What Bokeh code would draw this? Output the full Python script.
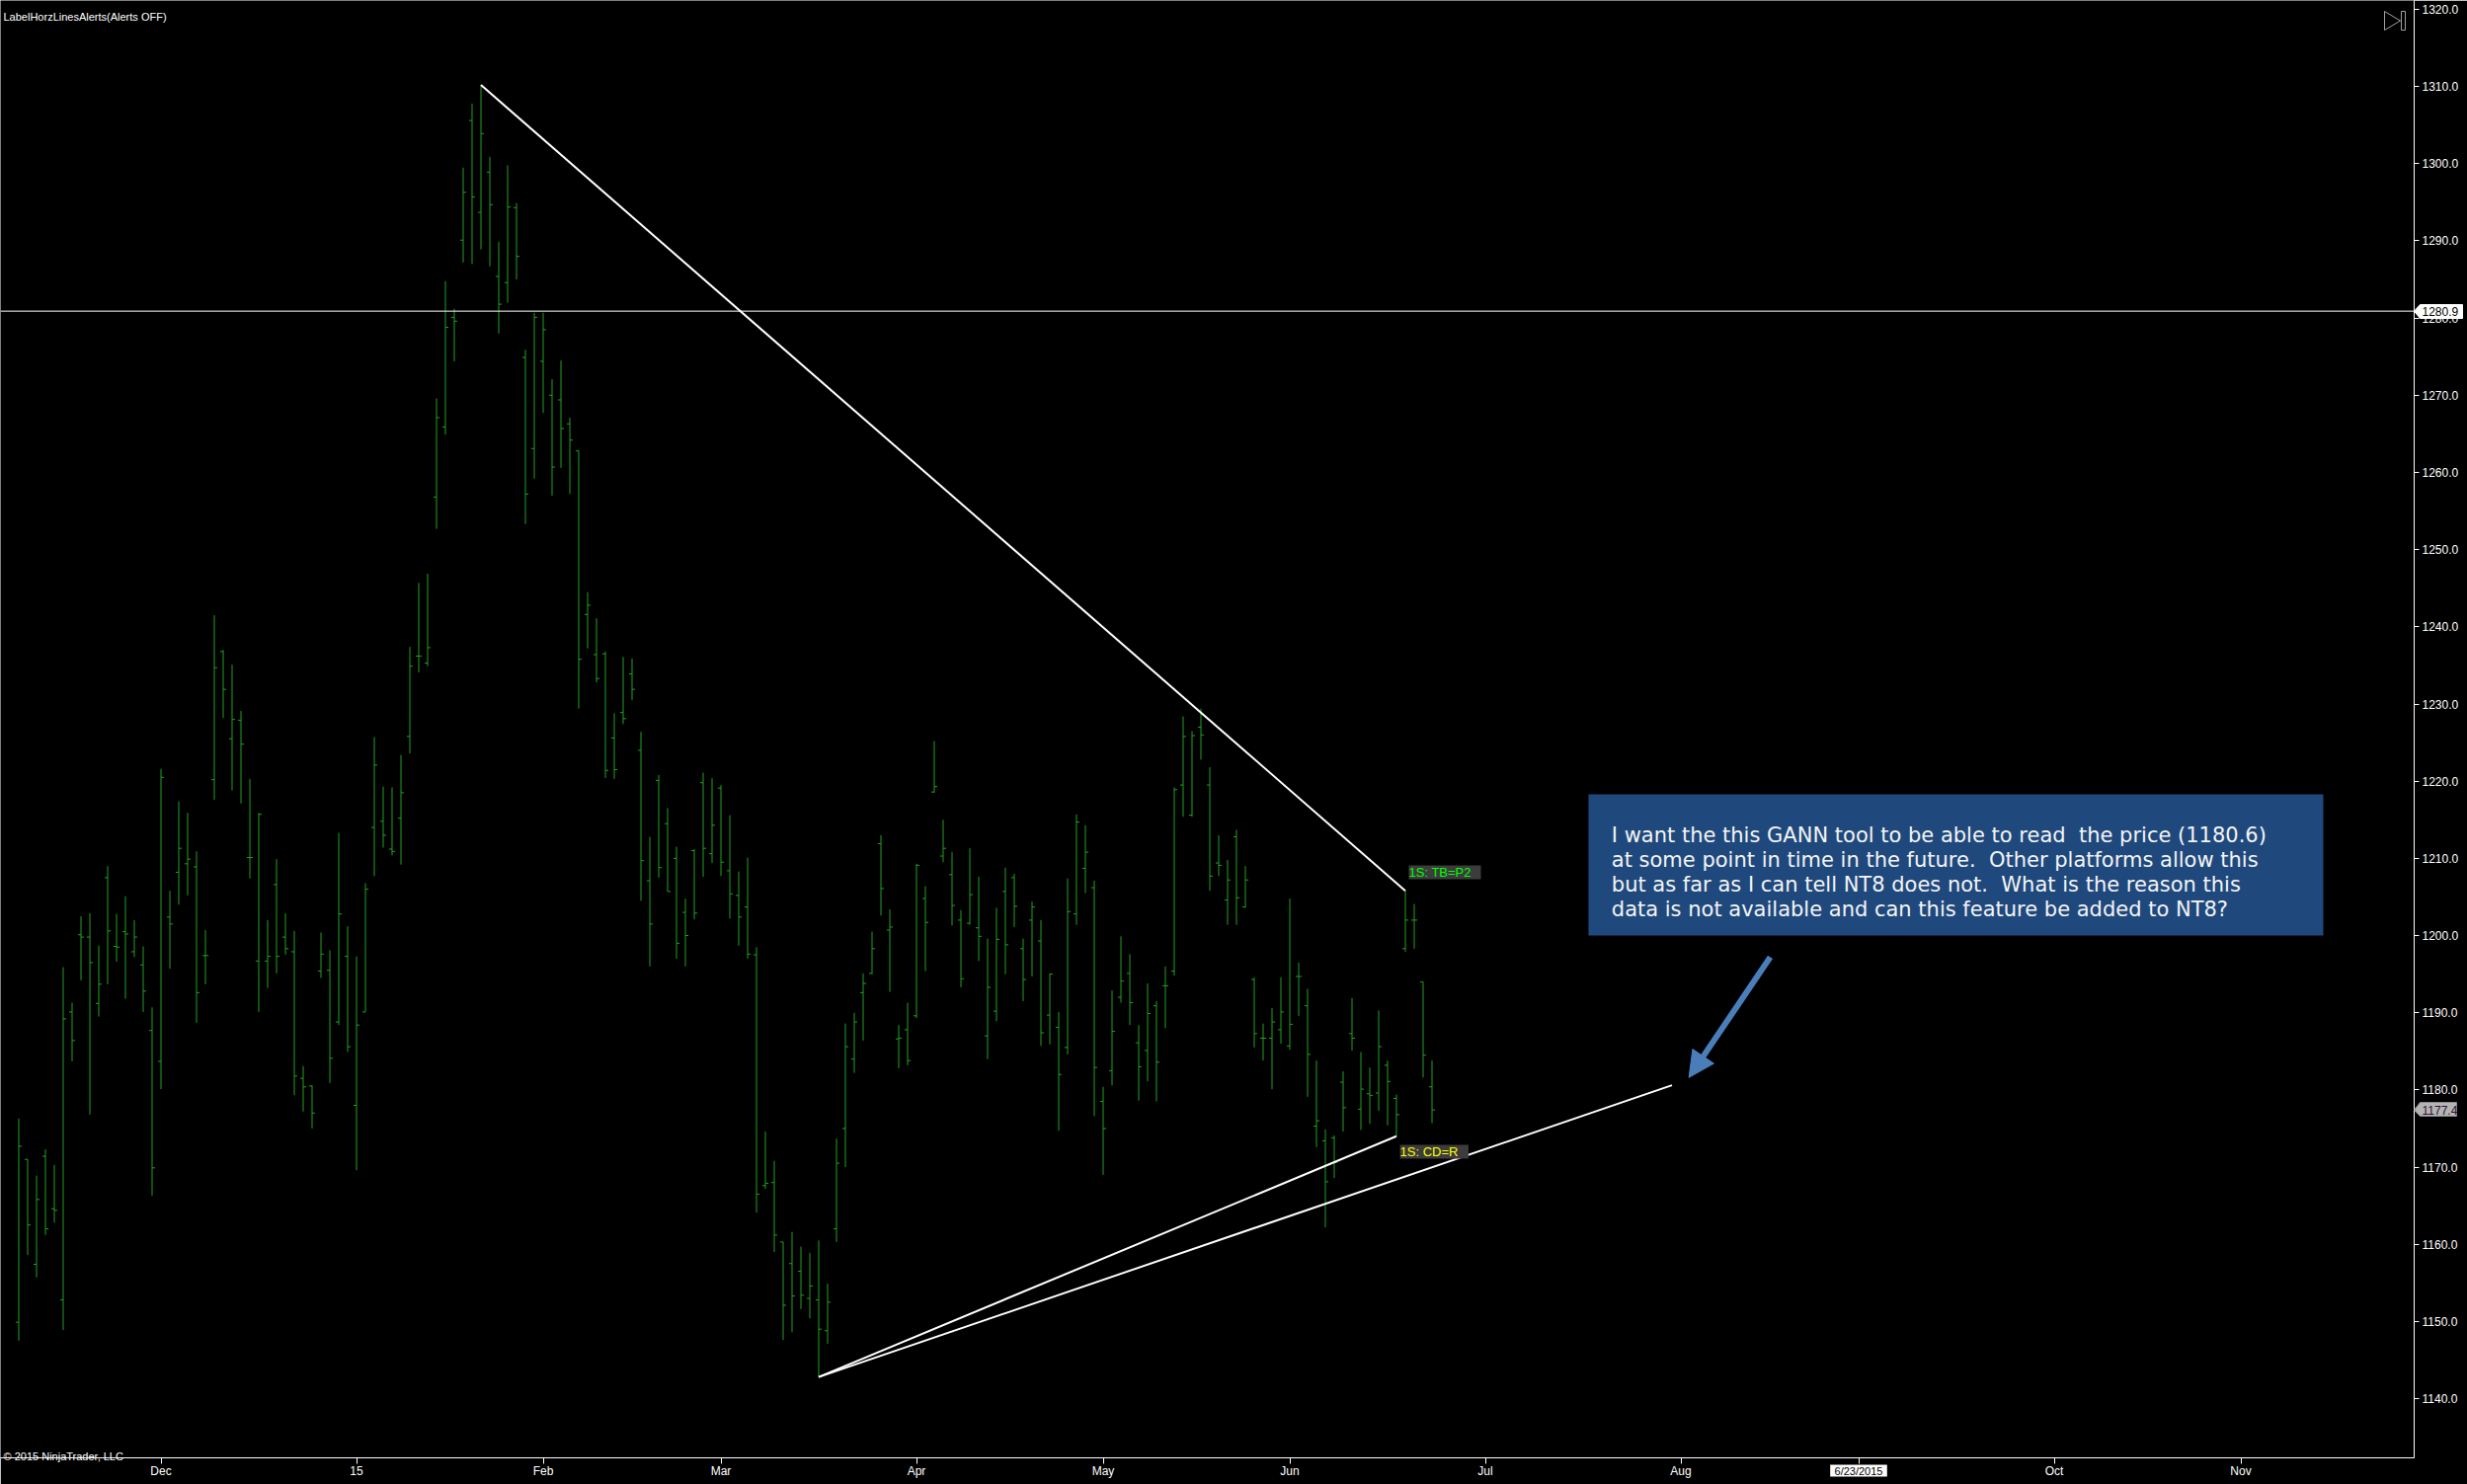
from bokeh.plotting import figure
from bokeh.models import (FixedTicker, Label, BoxAnnotation, Span, Arrow, NormalHead,
                          PrintfTickFormatter)
from bokeh.embed import file_html
from bokeh.resources import INLINE

# ---------------- data (daily OHLC, bar index = trading day) ----------------
opens = [1149.9, 1171.0, 1157.4, 1171.4, 1164.6, 1152.8, 1190.1, 1200.1, 1199.8, 1191.2,
         1207.5, 1198.6, 1200.5, 1197.9, 1196.2, 1187.7, 1183.7, 1202.4, 1208.2, 1209.3,
         1208.9, 1197.4, 1220.2, 1236.8, 1225.5, 1227.9, 1210.1, 1196.7, 1196.7, 1206.6,
         1199.8, 1197.9, 1181.5, 1180.5, 1195.4, 1195.5, 1188.8, 1197.3, 1178.0, 1190.1,
         1214.0, 1214.8, 1211.2, 1215.2, 1225.8, 1236.2, 1235.3, 1256.8, 1265.9, 1280.1,
         1290.1, 1305.6, 1293.7, 1298.9, 1285.4, 1284.6, 1294.3, 1274.9, 1263.1, 1274.4,
         1270.0, 1269.4, 1266.3, 1262.8, 1241.6, 1236.4, 1236.5, 1225.6, 1228.9, 1233.9,
         1224.0, 1207.1, 1220.1, 1214.5, 1210.0, 1203.0, 1211.0, 1219.8, 1210.6, 1219.1,
         1208.4, 1205.2, 1203.7, 1197.5, 1167.6, 1168.0, 1160.3, 1157.5, 1156.5, 1153.0,
         1152.8, 1148.8, 1162.0, 1175.0, 1184.0, 1192.6, 1195.1, 1211.9, 1200.7, 1186.6,
         1187.8, 1189.6, 1204.8, 1218.6, 1210.3, 1207.9, 1202.0, 1201.6, 1201.0, 1187.0,
         1190.2, 1205.7, 1207.5, 1198.3, 1202.0, 1199.3, 1189.7, 1188.1, 1185.5, 1202.8,
         1208.7, 1206.2, 1178.5, 1182.5, 1192.0, 1195.1, 1186.1, 1185.1, 1190.9, 1193.5,
         1195.4, 1219.5, 1215.6, 1227.0, 1219.5, 1209.4, 1204.6, 1212.8, 1203.7, 1194.3,
         1186.7, 1186.7, 1187.8, 1185.7, 1194.7, 1190.9, 1175.3, 1173.4, 1173.8, 1181.0,
         1187.3, 1177.5, 1179.5, 1179.6, 1183.2, 1178.9, 1198.3, 1202.0, 1194.0, 1180.4]
highs = [1176.3, 1171.0, 1168.9, 1172.3, 1170.3, 1195.9, 1191.3, 1202.5, 1202.9, 1198.7,
         1209.0, 1202.8, 1205.1, 1202.0, 1198.6, 1190.7, 1221.6, 1205.8, 1217.4, 1215.9,
         1210.9, 1200.7, 1241.5, 1237.0, 1235.1, 1229.1, 1220.3, 1215.9, 1202.0, 1209.9,
         1202.9, 1200.6, 1183.1, 1180.6, 1200.4, 1198.1, 1213.3, 1201.2, 1197.3, 1206.8,
         1225.7, 1219.3, 1219.2, 1223.4, 1237.4, 1245.7, 1246.9, 1269.6, 1284.8, 1281.2,
         1299.5, 1307.8, 1310.2, 1300.9, 1289.9, 1299.8, 1294.9, 1275.9, 1280.7, 1280.7,
         1272.1, 1274.5, 1267.1, 1262.8, 1244.5, 1241.1, 1236.8, 1228.8, 1236.1, 1235.9,
         1226.4, 1212.8, 1220.8, 1216.5, 1211.5, 1204.8, 1211.2, 1221.1, 1220.4, 1219.5,
         1215.6, 1208.3, 1210.1, 1198.5, 1174.6, 1170.8, 1160.3, 1161.6, 1159.7, 1158.9,
         1160.5, 1154.9, 1173.7, 1188.6, 1190.0, 1195.1, 1200.5, 1213.0, 1203.4, 1188.4,
         1191.3, 1209.3, 1206.4, 1225.2, 1215.0, 1210.8, 1203.3, 1211.3, 1207.6, 1199.6,
         1203.6, 1208.8, 1208.0, 1199.6, 1204.4, 1202.0, 1195.1, 1190.1, 1207.4, 1215.7,
         1214.3, 1207.1, 1180.4, 1192.9, 1199.9, 1197.6, 1188.4, 1193.8, 1191.5, 1196.0,
         1219.2, 1228.4, 1226.5, 1229.4, 1221.8, 1213.0, 1209.8, 1213.7, 1209.0, 1194.6,
         1188.6, 1190.6, 1194.6, 1204.8, 1196.5, 1193.1, 1183.8, 1174.9, 1174.1, 1182.4,
         1191.9, 1184.9, 1182.9, 1190.3, 1183.8, 1179.4, 1205.8, 1204.1, 1194.0, 1183.8]
lows = [1147.5, 1158.6, 1155.7, 1161.2, 1162.8, 1148.9, 1183.7, 1194.2, 1176.8, 1189.5,
        1193.7, 1196.6, 1191.8, 1197.2, 1190.1, 1166.3, 1180.1, 1195.7, 1204.0, 1205.2,
        1188.7, 1193.7, 1217.6, 1228.2, 1218.8, 1217.1, 1207.4, 1190.1, 1193.2, 1195.1,
        1197.5, 1179.3, 1177.2, 1175.0, 1194.5, 1180.9, 1188.4, 1184.9, 1169.6, 1190.1,
        1207.7, 1211.4, 1210.4, 1209.2, 1223.6, 1234.1, 1234.9, 1252.7, 1264.9, 1274.4,
        1287.2, 1287.0, 1288.9, 1286.7, 1278.0, 1282.0, 1285.0, 1253.3, 1259.2, 1267.7,
        1257.0, 1260.6, 1257.2, 1229.4, 1237.2, 1232.8, 1220.4, 1220.3, 1227.4, 1230.5,
        1204.5, 1196.0, 1207.5, 1205.7, 1197.0, 1196.0, 1202.1, 1207.6, 1209.4, 1207.7,
        1202.2, 1198.7, 1197.0, 1164.1, 1167.2, 1159.0, 1147.6, 1148.6, 1151.6, 1150.4,
        1142.8, 1147.1, 1160.3, 1170.0, 1182.2, 1186.4, 1195.0, 1202.6, 1192.7, 1182.8,
        1183.2, 1189.3, 1195.4, 1218.5, 1209.5, 1201.3, 1193.3, 1201.4, 1196.7, 1184.0,
        1188.9, 1195.0, 1201.1, 1191.5, 1194.7, 1185.7, 1185.9, 1174.7, 1184.6, 1201.4,
        1205.5, 1176.6, 1169.0, 1180.6, 1191.3, 1188.4, 1178.6, 1181.1, 1178.5, 1188.0,
        1194.8, 1215.4, 1215.4, 1222.8, 1205.8, 1207.7, 1201.4, 1201.4, 1203.6, 1185.5,
        1183.8, 1180.1, 1186.0, 1185.2, 1189.6, 1179.1, 1172.6, 1162.2, 1168.6, 1174.6,
        1185.1, 1174.8, 1175.6, 1177.3, 1175.4, 1174.0, 1197.9, 1198.3, 1181.6, 1175.7]
closes = [1172.7, 1162.5, 1165.8, 1162.0, 1164.4, 1189.2, 1186.4, 1199.8, 1196.5, 1193.7,
          1200.6, 1198.5, 1200.2, 1199.8, 1192.8, 1169.9, 1220.5, 1201.5, 1211.3, 1209.9,
          1192.6, 1197.4, 1234.7, 1231.9, 1228.0, 1224.8, 1210.1, 1215.7, 1197.3, 1197.3,
          1198.3, 1181.8, 1180.4, 1177.0, 1197.6, 1184.1, 1202.8, 1185.6, 1188.4, 1206.0,
          1222.1, 1213.0, 1210.9, 1218.5, 1234.9, 1236.2, 1237.3, 1267.1, 1278.8, 1279.6,
          1296.3, 1295.7, 1303.9, 1294.7, 1281.8, 1294.4, 1288.0, 1257.2, 1280.1, 1278.5,
          1260.7, 1265.7, 1264.2, 1235.8, 1242.8, 1233.3, 1221.4, 1221.5, 1228.1, 1231.9,
          1209.7, 1201.5, 1208.8, 1205.7, 1199.0, 1200.0, 1202.9, 1211.3, 1214.3, 1209.5,
          1205.4, 1202.4, 1197.6, 1166.5, 1167.9, 1161.2, 1152.1, 1153.3, 1153.4, 1154.6,
          1149.0, 1152.5, 1170.5, 1185.6, 1188.8, 1193.8, 1198.3, 1206.1, 1201.1, 1186.7,
          1183.8, 1209.1, 1201.7, 1219.3, 1211.3, 1203.9, 1194.4, 1205.3, 1199.9, 1193.3,
          1199.5, 1198.8, 1203.8, 1194.3, 1203.7, 1187.4, 1195.0, 1182.0, 1203.1, 1214.7,
          1210.8, 1182.9, 1175.0, 1187.6, 1194.1, 1191.3, 1183.0, 1189.9, 1183.6, 1193.5,
          1218.9, 1225.8, 1225.9, 1226.0, 1207.7, 1209.1, 1207.2, 1204.9, 1207.2, 1187.3,
          1186.7, 1188.8, 1190.1, 1188.5, 1194.7, 1184.6, 1176.0, 1168.1, 1170.6, 1177.7,
          1186.7, 1180.1, 1179.3, 1185.6, 1181.1, 1176.8, 1202.0, 1202.0, 1184.5, 1177.4]

month_tick_pos = [16, 38, 59, 79, 101, 122, 143, 165, 187, 207, 229, 250]
month_tick_labels = ["Dec", "15", "Feb", "Mar", "Apr", "May", "Jun", "Jul", "Aug", "", "Oct", "Nov"]
price_ticks = list(range(1140, 1321, 10))

hline_price = 1280.9
last_price = 1177.4
cursor_date_label = "6/23/2015"
cursor_bar = 207
down_line_x = [52, 156]
down_line_y = [1310.2, 1205.8]
up_line1_x = [90, 155]
up_line1_y = [1142.8, 1174.0]
up_line2_x = [90, 186]
up_line2_y = [1142.8, 1180.6]

note_lines = ["I want the this GANN tool to be able to read \u00a0the price (1180.6)",
              "at some point in time in the future. \u00a0Other platforms allow this",
              "but as far as I can tell NT8 does not. \u00a0What is the reason this",
              "data is not available and can this feature be added to NT8?"]

# ---------------- geometry ----------------
GREEN = "#22a022"
FONT = "Liberation Sans"
X0, X1 = -2.0556, 269.5          # bar-index range of the plot frame
Y0, Y1 = 1132.33, 1321.15        # price range of the plot frame
PX_X = 2444 / (X1 - X0)          # pixels per bar
PX_Y = 1476 / (Y1 - Y0)          # pixels per price unit
idx = list(range(len(highs)))

# ---------------- main chart ----------------
p = figure(frame_width=2444, frame_height=1476, x_range=(X0, X1), y_range=(Y0, Y1),
           output_backend="svg", toolbar_location=None, y_axis_location="right",
           background_fill_color="black", border_fill_color="black",
           outline_line_color=None,
           min_border_left=0, min_border_top=0, min_border_right=54, min_border_bottom=27)
p.grid.visible = False

p.yaxis.ticker = FixedTicker(ticks=price_ticks)
p.yaxis.formatter = PrintfTickFormatter(format="%.1f")
p.xaxis.ticker = FixedTicker(ticks=month_tick_pos)
p.xaxis.major_label_overrides = {t: l for t, l in zip(month_tick_pos, month_tick_labels)}
for ax in (p.xaxis[0], p.yaxis[0]):
    ax.axis_line_color = "white"
    ax.axis_line_width = 1
    ax.major_tick_line_color = "white"
    ax.major_tick_in = 0
    ax.minor_tick_line_color = None
    ax.major_label_text_color = "white"
    ax.major_label_text_font = FONT
    ax.major_label_text_font_size = "12px"
p.yaxis.major_tick_out = 5
p.yaxis.major_label_standoff = 3
p.xaxis.major_tick_out = 6
p.xaxis.major_label_standoff = 0

# OHLC bars
p.segment(x0=idx, y0=lows, x1=idx, y1=highs, line_color=GREEN, line_width=1)
p.segment(x0=[i - 0.34 for i in idx], y0=opens, x1=idx, y1=opens, line_color=GREEN, line_width=1)
p.segment(x0=idx, y0=closes, x1=[i + 0.34 for i in idx], y1=closes, line_color=GREEN, line_width=1)

# horizontal line + trend lines
p.add_layout(Span(location=hline_price, dimension="width", line_color="white", line_width=1))
for xs, ys in ((down_line_x, down_line_y), (up_line1_x, up_line1_y), (up_line2_x, up_line2_y)):
    p.line(xs, ys, line_color="white", line_width=2)

# bar labels
p.quad(left=[156.39], right=[164.5], top=[1209.09], bottom=[1207.30],
       fill_color="#3c3c3c", line_color=None)
p.add_layout(Label(x=156.39, y=1208.2, text="1S: TB=P2", text_color="#00ff00",
                   text_font=FONT, text_font_size="13px", text_baseline="middle"))
p.quad(left=[155.4], right=[163.1], top=[1172.88], bottom=[1171.09],
       fill_color="#3c3c3c", line_color=None)
p.add_layout(Label(x=155.4, y=1171.98, text="1S: CD=R", text_color="#ffff00",
                   text_font=FONT, text_font_size="13px", text_baseline="middle"))

# callout
p.add_layout(BoxAnnotation(left=176.61, right=259.28, top=1218.30, bottom=1200.0,
                           fill_color="#1f497d", fill_alpha=1.0, line_color=None))
for k, line in enumerate(note_lines):
    p.add_layout(Label(x=179.2, y=1213.05 - k * 3.2, text=line, text_color="#f4f4f4",
                       text_font="DejaVu Sans", text_font_size="21px",
                       text_baseline="alphabetic"))

# arrow
p.add_layout(Arrow(x_start=197.06, y_start=1197.2, x_end=187.9, y_end=1181.6,
                   line_color="#4a7ebb", line_width=6,
                   end=NormalHead(size=26, fill_color="#4a7ebb", line_color="#4a7ebb")))

# ---------------- transparent overlay (texts/markers in the axis margins) ----------------
OX1 = X0 + 2498 / PX_X
OY0 = Y1 - 1503 / PX_Y
ov = figure(frame_width=2498, frame_height=1503, x_range=(X0, OX1), y_range=(OY0, Y1),
            output_backend="svg", toolbar_location=None,
            x_axis_location=None, y_axis_location=None,
            background_fill_color=None, border_fill_color=None, outline_line_color=None,
            min_border_left=0, min_border_top=0, min_border_right=0, min_border_bottom=0)
ov.grid.visible = False
ov.margin = (-1503, 0, 0, 0)

def bx(px):
    return X0 + px / PX_X

def by(py):
    return Y1 - py / PX_Y

# price markers on the right axis
ov.patch([bx(2444), bx(2450), bx(2493), bx(2493), bx(2450)],
         [hline_price, by(308), by(308), by(322), by(322)],
         fill_color="white", line_color="white")
ov.add_layout(Label(x=bx(2452), y=hline_price, text="1280.9", text_color="black",
                    text_font=FONT, text_font_size="12px", text_baseline="middle"))
ov.patch([bx(2444), bx(2450), bx(2487), bx(2487), bx(2450)],
         [last_price, by(1116), by(1116), by(1130), by(1130)],
         fill_color="#b4b4b4", line_color="#8a8a8a")
ov.add_layout(Label(x=bx(2452), y=last_price, text="1177.4", text_color="#301030",
                    text_font=FONT, text_font_size="12px", text_baseline="middle"))

# cursor date on the time axis
ov.quad(left=[cursor_bar - 3.2], right=[cursor_bar + 3.2], top=[by(1483)], bottom=[by(1495)],
        fill_color="white", line_color=None)
ov.add_layout(Label(x=cursor_bar, y=by(1489), text=cursor_date_label, text_color="black",
                    text_font=FONT, text_font_size="11px", text_baseline="middle",
                    text_align="center"))

# texts
ov.add_layout(Label(x=bx(3), y=by(16), text="LabelHorzLinesAlerts(Alerts OFF)",
                    text_color="white", text_font=FONT, text_font_size="11px",
                    text_baseline="alphabetic"))
ov.add_layout(Label(x=bx(3), y=by(1474), text="\u00a9 2015 NinjaTrader, LLC",
                    text_color="white", text_font=FONT, text_font_size="11px",
                    text_baseline="alphabetic"))

# scroll-to-end icon
ov.patch([bx(2414), bx(2414), bx(2430)], [by(11), by(30), by(20.5)], fill_color=None,
         line_color="#a0a0a0", line_width=1)
ov.quad(left=[bx(2431)], right=[bx(2435)], top=[by(11)], bottom=[by(30)], fill_color=None,
        line_color="#a0a0a0", line_width=1)

open("out.html", "w").write(file_html([p, ov], INLINE))
